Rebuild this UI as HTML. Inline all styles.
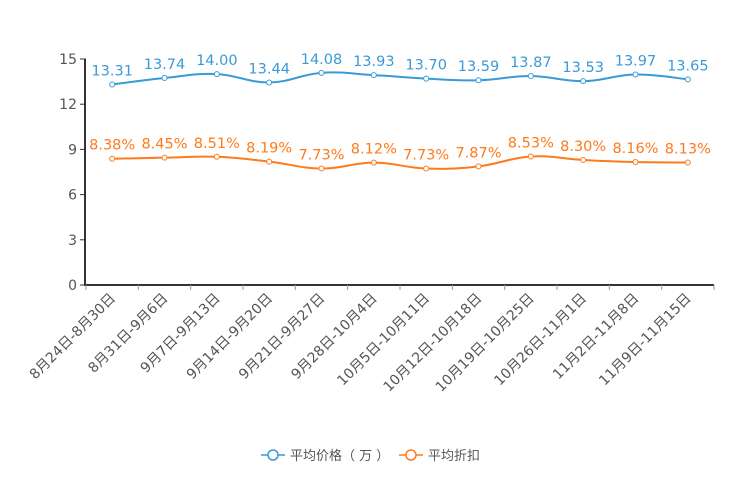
<!DOCTYPE html>
<html><head><meta charset="utf-8"><style>
body{margin:0;background:#fff;width:744px;height:496px;overflow:hidden}
svg{display:block;font-family:"DejaVu Sans","Liberation Sans","Noto Sans CJK SC",sans-serif}
</style></head><body>
<svg id="c" width="744" height="496"></svg>
<script>
const categories=["8月24日-8月30日","8月31日-9月6日","9月7日-9月13日","9月14日-9月20日","9月21日-9月27日","9月28日-10月4日","10月5日-10月11日","10月12日-10月18日","10月19日-10月25日","10月26日-11月1日","11月2日-11月8日","11月9日-11月15日"];
const priceValues=[13.31,13.74,14.00,13.44,14.08,13.93,13.70,13.59,13.87,13.53,13.97,13.65];
const discountValues=[8.38,8.45,8.51,8.19,7.73,8.12,7.73,7.87,8.53,8.30,8.16,8.13];
const yTicks=[0,3,6,9,12,15];
const NS="http://www.w3.org/2000/svg";
const svg=document.getElementById('c');
const X0=86,X1=714,Y0=285,Y1=59,YMAX=15;
const bw=(X1-X0)/categories.length;
const x=i=>X0+bw*(i+0.5);
const y=v=>Y0-(v/YMAX)*(Y0-Y1);
function el(t,a,p){const e=document.createElementNS(NS,t);for(const k in a)e.setAttribute(k,a[k]);(p||svg).appendChild(e);return e;}
const ya=el('g',{});


el('line',{x1:X0-1,y1:Y1,x2:X0-1,y2:Y0,stroke:'#333','stroke-width':2},ya);
yTicks.forEach(t=>{
  el('line',{x1:X0-6,y1:y(t),x2:X0,y2:y(t),stroke:'#333'},ya);
  const tx=el('text',{x:X0-9,y:y(t)+5,'text-anchor':'end','font-size':14,fill:'#555'},ya);
  tx.textContent=t;
  
  
});
const xa=el('g',{});


el('line',{x1:X0-2,y1:Y0,x2:X1,y2:Y0,stroke:'#333','stroke-width':2},xa);
for(let i=0;i<=categories.length;i++)el('line',{x1:X0+bw*i,y1:Y0,x2:X0+bw*i,y2:Y0+5,stroke:'#999'},xa);
categories.forEach((c,i)=>{
  const tx=el('text',{x:x(i)+4,y:Y0+14,'text-anchor':'end','font-size':14,fill:'#555',transform:`rotate(-45 ${x(i)+4} ${Y0+14})`},xa);
  tx.textContent=c;
  
  
});
function smooth(pts){
  let d=`M${pts[0][0]},${pts[0][1]}`;
  for(let i=0;i<pts.length-1;i++){
    const p0=pts[i-1]||pts[i],p1=pts[i],p2=pts[i+1],p3=pts[i+2]||p2,t=0.2;
    d+=` C${p1[0]+(p2[0]-p0[0])*t},${p1[1]+(p2[1]-p0[1])*t} ${p2[0]-(p3[0]-p1[0])*t},${p2[1]-(p3[1]-p1[1])*t} ${p2[0]},${p2[1]}`;
  }
  return d;
}
function series(vals,color,name,fmt){
  const g=el('g',{});
  
  
  const pts=vals.map((v,i)=>[x(i),y(v)]);
  el('path',{d:smooth(pts),fill:'none',stroke:color,'stroke-width':2},g);
  pts.forEach((p,i)=>{
    const c=el('circle',{cx:p[0],cy:p[1],r:2.5,fill:'#fff',stroke:color,'stroke-width':1},g);
    
    
    const t=el('text',{x:p[0],y:p[1]-9,'text-anchor':'middle','font-size':14.5,fill:color},g);
    t.textContent=fmt(vals[i]);
    
    
  });
}
series(priceValues,'#3a9ad6','price-series',v=>v.toFixed(2));
series(discountValues,'#ff7a1a','discount-series',v=>v.toFixed(2)+'%');
function legend(lx,color,label,name){
  const g=el('g',{});
  
  
  el('line',{x1:lx,y1:455,x2:lx+24,y2:455,stroke:color,'stroke-width':1.5},g);
  el('circle',{cx:lx+12,cy:455,r:5,fill:'#fff',stroke:color,'stroke-width':1.5},g);
  const t=el('text',{x:lx+29,y:460,'font-size':13,fill:'#555'},g);
  t.textContent=label;
}
legend(261,'#3a9ad6','平均价格（ 万 ）','legend-price');
legend(399,'#ff7a1a','平均折扣','legend-discount');
</script>
</body></html>
